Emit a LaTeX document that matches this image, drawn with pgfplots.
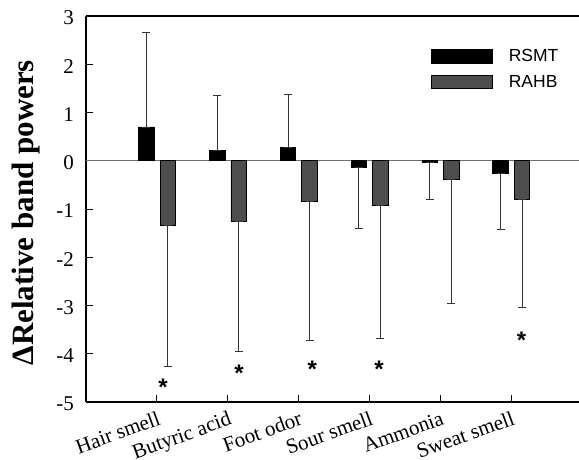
\documentclass[border=0pt]{standalone}
\usepackage{fontspec}
\setmainfont{Liberation Serif}
\newfontfamily\arial{Liberation Sans}
\usepackage{pgfplots}
\pgfplotsset{compat=1.18}
\definecolor{rahbgray}{HTML}{4D4D4D}
\definecolor{zerogray}{HTML}{707070}
\definecolor{errgray}{HTML}{333333}

\begin{document}
\begin{tikzpicture}
\begin{axis}[
  scale only axis, width=493pt, height=386pt,
  xmin=0, xmax=6.96, ymin=-5, ymax=3,
  ybar, bar width=15.5pt,
  axis x line*=box, axis y line*=left,
  every outer x axis line/.append style={-},
  every outer y axis line/.append style={-},
  axis line style={-, line width=1.2pt, black},
  xtick={1,2,3,4,5,6}, xtick pos=bottom,
  xticklabels={Hair smell, Butyric acid, Foot odor, Sour smell, Ammonia, Sweat smell},
  ytick={-5,-4,-3,-2,-1,0,1,2,3},
  yticklabels={-5,-4,-3,-2,-1,0,1,2,3},
  tick align=inside, major tick length=7pt,
  tick style={black, line width=0.8pt},
  yticklabel style={font=\fontsize{21}{25}\selectfont, anchor=east, inner sep=0pt, xshift=-12pt, yshift=-2pt},
  xticklabel style={font=\fontsize{21}{25}\selectfont, inner sep=0pt, xshift=5pt, yshift=-22pt, rotate=20, anchor=base east},
  ylabel={\bfseries Δ\kern0.5pt Relative band powers},
  ylabel style={font=\fontsize{31}{37}\selectfont, at={(axis description cs:-0.1065,0.49)}, anchor=base, rotate=0},
  extra y ticks={0}, extra y tick labels={},
  extra y tick style={grid=major, major grid style={zerogray, line width=1pt}, tick style={draw=none}},
  legend image code/.code={\draw[#1] (0pt,-6.75pt) rectangle (61pt,6.75pt);},
  legend style={at={(0.6998,0.9137)}, anchor=north west, draw=none, fill=none,
    inner sep=0pt, outer sep=0pt, row sep=11pt,
    font=\arial\fontsize{17.5}{20}\selectfont,
    nodes={inner sep=0pt},
    /tikz/every odd column/.append style={column sep=16pt}},
  legend cell align=left,
]
\addplot[fill=black, draw=black, line width=0.8pt, bar shift=-10.5pt,
  error bars/.cd, y dir=both, y explicit,
  error bar style={errgray, line width=0.8pt},
  error mark options={errgray, line width=0.8pt, mark size=4pt, rotate=90}]
  coordinates {
  (1,0.70)   += (0,1.96) -= (0,0)
  (2,0.22)   += (0,1.14) -= (0,0)
  (3,0.27)   += (0,1.11) -= (0,0)
  (4,-0.145) += (0,0)    -= (0,1.265)
  (5,-0.03)  += (0,0)    -= (0,0.77)
  (6,-0.27)  += (0,0)    -= (0,1.15)
};
\addplot[fill=rahbgray, draw=black, line width=0.8pt, bar shift=11pt,
  error bars/.cd, y dir=both, y explicit,
  error bar style={errgray, line width=0.8pt},
  error mark options={errgray, line width=0.8pt, mark size=4pt, rotate=90}]
  coordinates {
  (1,-1.35)  += (0,0) -= (0,2.92)
  (2,-1.25)  += (0,0) -= (0,2.70)
  (3,-0.85)  += (0,0) -= (0,2.88)
  (4,-0.925) += (0,0) -= (0,2.755)
  (5,-0.386) += (0,0) -= (0,2.564)
  (6,-0.795) += (0,0) -= (0,2.245)
};
\legend{RSMT, RAHB}
% significance markers
\begin{scope}[every node/.style={font=\arial\bfseries\fontsize{24}{28}\selectfont, inner sep=0pt, anchor=base}]
\node at (axis cs:1.088,-4.87) {*};
\node at (axis cs:2.161,-4.58) {*};
\node at (axis cs:3.196,-4.49) {*};
\node at (axis cs:4.138,-4.49) {*};
\node at (axis cs:6.148,-3.89) {*};
\end{scope}
\end{axis}
\pgfresetboundingbox
\path[use as bounding box] ([xshift=-86pt,yshift=-57pt]current axis.south west) rectangle ([yshift=16pt]current axis.north east);
\end{tikzpicture}
\end{document}
